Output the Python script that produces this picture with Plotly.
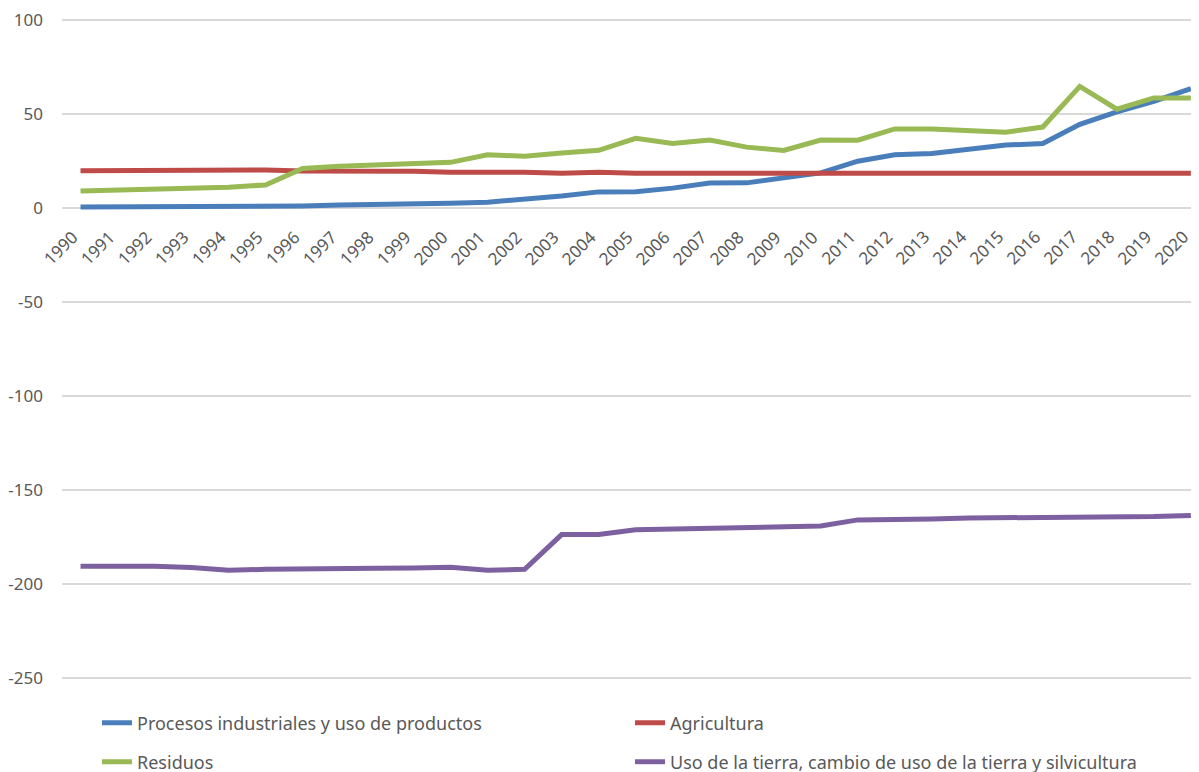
import plotly.graph_objects as go

# emissions by sector, 1990-2020
years = list(range(1990, 2021))

procesos = [0.5, 0.5, 0.5, 0.5, 0.5, 0.5, 1.0, 1.5, 1.7, 1.8, 2.4,
            3.0, 4.4, 6.3, 8.5, 8.6, 10.5, 13.2, 13.3, 15.8, 18.6,
            24.8, 28.2, 28.9, 31.2, 33.4, 34.2, 44.4, 51.1, 56.6, 63.4]

agricultura = [19.7, 19.7, 19.8, 20.3, 20.3, 20.2, 19.6, 19.7, 19.7, 19.5, 19.0,
               19.1, 19.0, 18.4, 18.9, 18.4, 18.4, 18.4, 18.4, 18.4, 18.4,
               18.4, 17.9, 17.9, 17.9, 17.9, 17.9, 17.9, 17.9, 18.4, 18.4]

residuos = [9.0, 9.6, 10.2, 10.3, 11.0, 12.2, 21.0, 22.2, 22.8, 23.5, 24.2,
            28.2, 27.5, 29.2, 30.6, 37.0, 34.2, 36.1, 32.3, 30.5, 36.1,
            36.0, 42.0, 42.0, 41.2, 40.2, 43.0, 64.6, 52.5, 58.5, 58.5]

uso_tierra = [-190.6, -190.6, -190.7, -191.3, -192.8, -192.3, -192.3, -192.3, -191.7, -191.6, -191.2,
              -192.8, -192.3, -173.8, -173.8, -171.3, -170.8, -170.3, -169.8, -169.3, -169.2,
              -166.0, -165.9, -165.5, -165.0, -164.9, -164.8, -164.4, -164.3, -164.2, -163.6]

y_ticks = [100, 50, 0, -50, -100, -150, -200, -250]
y_labels = ["100", "50", "0", "-50", "-100", "-150", "-200", "-250"]

font = "Noto Sans, Open Sans, sans-serif"
grey = "#595959"

fig = go.Figure()
fig.add_trace(go.Scatter(x=years, y=procesos, mode="lines", name="Procesos industriales y uso de productos",
                         line=dict(color="#4a7ebb", width=5), legend="legend"))
fig.add_trace(go.Scatter(x=years, y=agricultura, mode="lines", name="Agricultura",
                         line=dict(color="#be4b48", width=5), legend="legend"))
fig.add_trace(go.Scatter(x=years, y=residuos, mode="lines", name="Residuos",
                         line=dict(color="#98b954", width=5), legend="legend2"))
fig.add_trace(go.Scatter(x=years, y=uso_tierra, mode="lines", name="Uso de la tierra, cambio de uso de la tierra y silvicultura",
                         line=dict(color="#7d60a0", width=5), legend="legend2"))

# year labels sit just under the zero line, rotated
for yr in years:
    fig.add_annotation(x=yr, y=0, xref="x", yref="y", text=str(yr), showarrow=False,
                       textangle=-45, xanchor="right", yanchor="top", yshift=-15, xshift=5,
                       font=dict(family=font, size=17, color=grey))

legend_style = dict(orientation="h", x=0.0308, xanchor="left", yanchor="middle",
                    entrywidth=488, bgcolor="rgba(0,0,0,0)",
                    font=dict(family=font, size=18, color=grey))

# page body adds 8px, so the figure is a little smaller than the window
fig.update_layout(
    width=1191, height=764,
    margin=dict(l=54, r=0, t=10, b=66, autoexpand=False),
    plot_bgcolor="white", paper_bgcolor="white",
    xaxis=dict(range=[1989.5, 2020.22], showgrid=False, zeroline=False, showticklabels=False,
               showline=False, ticks=""),
    yaxis=dict(range=[-265, 101], tickvals=y_ticks, ticktext=y_labels, showgrid=True,
               gridcolor="#d9d9d9", gridwidth=1.5, zeroline=False, showline=False, ticks="",
               ticklabelstandoff=18, ticklabeloverflow="allow",
               tickfont=dict(family=font, size=17, color=grey)),
    legend=dict(y=-0.0247, **legend_style),
    legend2=dict(y=-0.0814, **legend_style),
)

fig.write_html("out.html")
